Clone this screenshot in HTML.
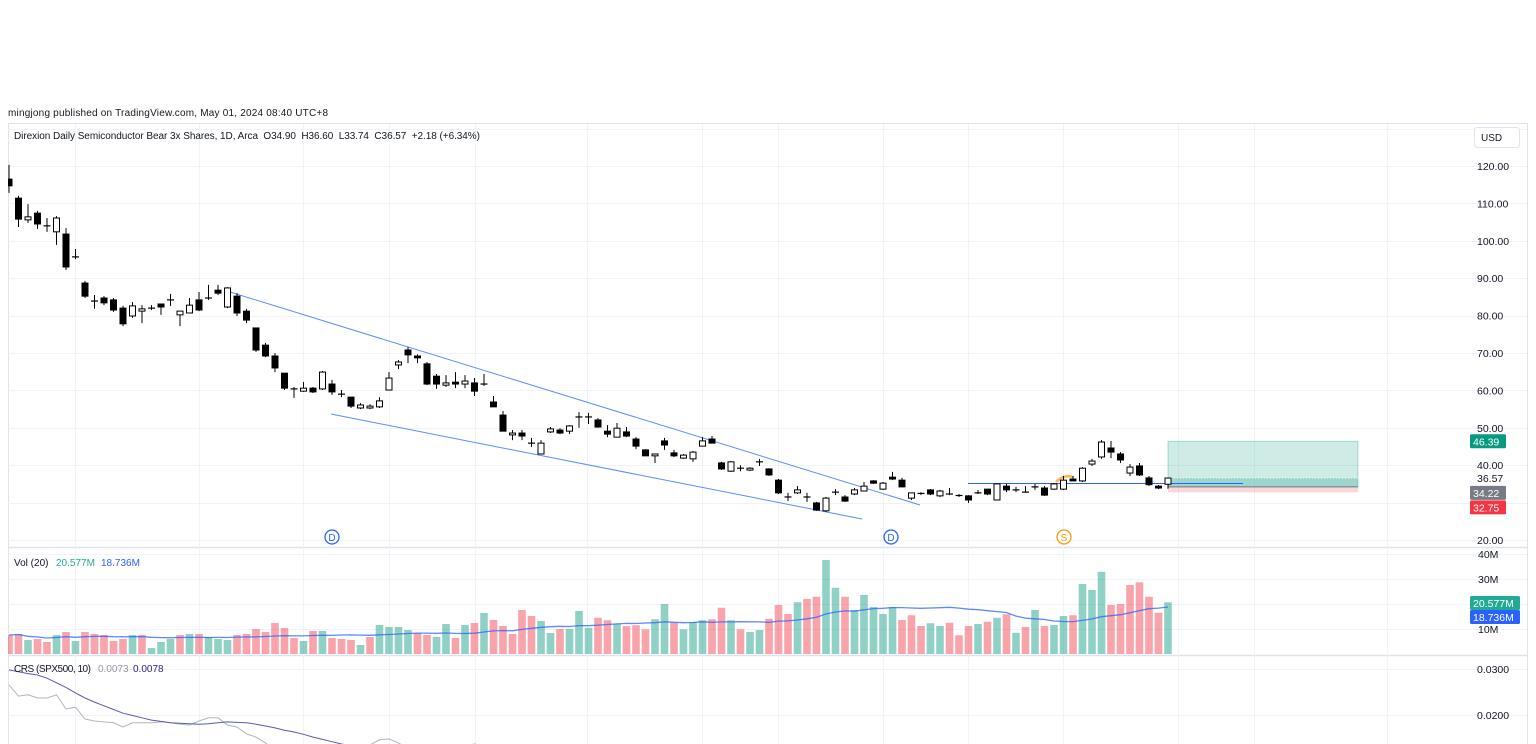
<!DOCTYPE html>
<html><head><meta charset="utf-8">
<style>
html,body{margin:0;padding:0;background:#fff;width:1536px;height:744px;overflow:hidden;font-family:"Liberation Sans",sans-serif;}
svg{display:block}
text{white-space:pre}
</style></head>
<body>
<svg id="chart" width="1536" height="744" viewBox="0 0 1536 744" xmlns="http://www.w3.org/2000/svg"></svg>
<script>
// ---- data ----
const opens  = [116.5,111.4,105.6,107.4,104,102.4,101.8,95.7,88.7,83.9,84.7,84.2,82,79.9,81.2,82,83.1,84.2,80.2,80.7,84.2,84.7,86.8,82.3,85.2,81.2,76.7,72.1,69.2,64.6,60.4,59.8,60.6,60.4,61.7,59,58.2,55.3,55.3,55.6,60.1,66.8,70.8,69.2,67.1,63.8,61.4,62.2,61.7,62,61.7,56.9,53.4,48.1,48.6,45.9,43,48.9,49.4,49.1,52.9,52.9,52.1,49.1,47.5,48.9,47,44.1,42.5,46.5,43.3,41.9,41.7,45.1,47,40.6,38.4,39.2,38.7,40.9,39,36,31.5,32.6,31.5,29.9,27.8,32.8,31.5,32.3,33.1,35.8,33.6,36.8,36,31.2,32.6,33.4,31.8,32.3,32,31.8,32.6,33.6,30.7,34.4,33.4,32.8,34.2,33.9,33.6,33.6,36.3,35.8,40.3,42.2,44.6,43,37.9,39.8,36.6,34.4,34.9];
const highs  = [120.3,112,109.8,108,106.1,106.6,103.4,97.8,89.3,85.5,85.2,84.7,82.6,83.6,82.8,82.8,83.1,85.8,81.2,84.7,86.3,88.2,88.2,87.6,86,81.8,76.7,72.7,70,64.6,60.9,62.2,60.9,65.2,62.8,60.1,58.2,56.6,56.3,58.2,64.9,68.1,71.6,69.7,67.6,64.4,64.1,64.9,64.1,63.3,64.4,58.5,54.5,49.4,49.4,47.3,46.7,50.2,49.9,50.7,54.2,54,52.6,50.7,51.3,50.2,47.5,44.3,43,47.3,44.1,43,43.8,47.5,47.8,40.9,41.1,40,39.5,41.7,39.2,36.3,32.6,34.4,32.6,30.2,31.5,33.6,32,33.9,35.5,36,35.5,38.2,36.6,32.6,32.8,33.6,33.4,33.9,32.3,32,33.4,33.6,35,35,34.2,34.4,35,34.4,35.2,37.1,37.1,39.5,41.7,46.7,46.5,43.5,40.3,40.6,37.1,34.7,36.6];
const lows   = [112.8,103.7,104.8,103.2,102.4,98.9,92.2,95.1,84.7,81.8,82.8,81,77.2,79.4,78,81.5,80.2,82.6,77.2,80.7,81.2,84.2,85.5,82,79.9,78,70.3,68.9,64.9,60.1,58,59.6,59.3,60.1,58.8,58.2,55.3,55,55,55.3,60.1,65.7,67.3,67.3,61.4,60.4,60.9,60.6,60.6,58.5,61.2,55.6,49.1,46.7,46.7,44.9,43,48.6,48.3,48.3,50,51,50,47.5,47.5,47.5,44.3,42.5,40.6,44.1,42.2,41.7,40.9,45.1,45.9,38.7,38.2,38.4,38.4,39.8,37.1,32.3,30.4,32.3,30.2,27.8,27.5,32,30.2,32,33.1,35,33.4,36,34.2,30.7,32,32,31.5,32,31.5,29.9,32.3,32,30.7,32.8,32.8,32.8,33.4,31.8,33.4,33.4,35.8,35.5,39.8,41.7,41.9,40.6,37.1,37.1,34.4,33.6,33.7];
const closes = [114.7,105.8,106.4,104.5,104,106.1,93,95.7,85.2,83.9,83.4,81.5,77.8,82.6,81.8,82,82.3,84.2,81.2,82.8,81.5,84.7,86,87.4,80.7,78.8,70.8,69.2,66,60.6,60.4,60.6,59.6,64.9,59.6,59,55.8,56.1,55.8,57.2,63.3,67.6,69.5,68.7,61.7,61.7,62,61.7,62.5,59.8,61.7,55.6,49.1,48.6,47.8,45.9,45.9,49.7,48.6,50.5,52.9,52.9,50.2,48.3,49.9,47.8,45.1,42.5,43,45.4,42.5,42.7,43.5,46.5,45.9,39,40.9,39.2,39.2,40.9,37.4,32.6,31.5,33.4,31.5,28,31.2,32.8,30.4,33.4,34.4,35.2,35.2,36.3,34.2,32.6,32.3,32.3,33.1,32.3,31.8,30.7,32.6,32.3,35,33.4,33.4,32.8,34.2,32,35,36,35.8,39.2,41.1,46.2,43.5,41.4,39.5,37.4,34.8,33.9,36.57];
const volumes = [7.6,8,5.6,6,4.8,7.6,8.8,5.2,8.8,8,7.6,5.2,6,7.6,7.6,2.4,4.8,6,7.6,8,8,6.8,6,5.6,7.6,8,10,8.8,12.4,10.4,6.4,5.2,9.2,9.2,6.4,6,5.6,3.6,6.8,11.6,10.8,10.8,9.6,8.4,7.6,6.8,12,6.4,11.6,12.4,16.4,13.6,11.2,8,17.6,15.2,13.2,8.4,10,10,17.2,10.5,14.5,13.5,12,11.2,11.5,9.9,13.9,20,12.5,9.9,12.8,13.5,13.9,18.5,13.5,9.9,8.8,9.6,14.1,19.6,16,20.7,22,22.9,37.6,26.5,22.9,17.6,23.6,18.8,16,18.8,13.6,15.5,11.2,12.3,11.2,12.5,7.5,11.2,12,12.9,14.5,15.9,8.5,10.8,17.6,11.2,11.6,15.2,15.5,28,25.6,32.9,19.6,20,27.6,28.7,22.9,16.5,20.7];
const crsValues = [0.0265,0.0241,0.0244,0.0237,0.0237,0.0244,0.0213,0.0217,0.0191,0.0187,0.0185,0.0183,0.0174,0.0183,0.0183,0.0183,0.0185,0.0183,0.0180,0.0178,0.0187,0.0194,0.0194,0.0178,0.0174,0.0159,0.0152,0.0139,0.0124,0.0113,0.0113,0.0110,0.0108,0.0110,0.0115,0.0120,0.0126,0.0130,0.0135,0.0146,0.0148,0.0139,0.0128,0.0124,0.0120,0.0120,0.0124,0.0130,0.0133,0.0137,0.0133,0.0120];
const crsMa = [0.0298,0.0294,0.0290,0.0287,0.0280,0.0270,0.0260,0.0248,0.0237,0.0228,0.0220,0.0212,0.0204,0.0199,0.0194,0.0189,0.0186,0.0183,0.0182,0.0181,0.0180,0.0181,0.0183,0.0185,0.0184,0.0183,0.0180,0.0176,0.0172,0.0167,0.0163,0.0158,0.0152,0.0147,0.0142,0.0137,0.0133,0.0129,0.0125,0.0122,0.0120];
const priceTicks = [120,110,100,90,80,70,60,50,40,20];
const priceGrid = [130,120,110,100,90,80,70,60,50,40,30,20];
const volTicks = [40,30,10];
const crsTicks = [0.03,0.02];
const gridX = [75,199,303,389,475,587,702,778,883,968,1063,1178,1254,1387];

// ---- axes ----
const X = i => 9 + i*9.5;
const PY = p => 166 + (120-p)*3.74;
const VY = v => 654 - v*2.5;
const CY = v => 669 + (0.03-v)*4600;

const NS='http://www.w3.org/2000/svg';
const svg=document.getElementById('chart');
function mk(tag, attrs, parent){const e=document.createElementNS(NS,tag);for(const k in attrs)e.setAttribute(k,attrs[k]);(parent||svg).appendChild(e);return e;}

const defs=mk('defs',{});
const cp1=mk('clipPath',{id:'cpPrice'},defs);mk('rect',{x:8,y:124,width:1519,height:423},cp1);
const cp2=mk('clipPath',{id:'cpVol'},defs);mk('rect',{x:8,y:548,width:1519,height:107},cp2);
const cp3=mk('clipPath',{id:'cpCrs'},defs);mk('rect',{x:8,y:657,width:1519,height:87},cp3);

let t=mk('text',{x:8,y:116,'font-size':'10','fill':'#131722',textLength:320});
t.textContent='mingjong published on TradingView.com, May 01, 2024 08:40 UTC+8';


let fr=mk('rect',{x:8.5,y:123.5,width:1519,height:630,fill:'none',stroke:'#e0e3eb'});

mk('line',{x1:8,x2:1528,y1:547.5,y2:547.5,stroke:'#e0e3eb','stroke-width':1.5});
mk('line',{x1:8,x2:1528,y1:655.5,y2:655.5,stroke:'#e0e3eb','stroke-width':1.5});

const grid=mk('g',{stroke:'#f0f3fa','stroke-width':1});

gridX.forEach(x=>mk('line',{x1:x+.5,x2:x+.5,y1:124,y2:744},grid));
priceGrid.forEach(p=>mk('line',{x1:8,x2:1527,y1:Math.round(PY(p))+.5,y2:Math.round(PY(p))+.5},grid));
volTicks.concat([20]).forEach(v=>mk('line',{x1:8,x2:1527,y1:Math.round(VY(v))+.5,y2:Math.round(VY(v))+.5},grid));
crsTicks.forEach(v=>mk('line',{x1:8,x2:1527,y1:Math.round(CY(v))+.5,y2:Math.round(CY(v))+.5},grid));

t=mk('text',{x:14,y:139,'font-size':'10','fill':'#131722',textLength:466});
t.textContent='Direxion Daily Semiconductor Bear 3x Shares, 1D, Arca  O34.90  H36.60  L33.74  C36.57  +2.18 (+6.34%)';


const ub=mk('g',{});
mk('rect',{x:1474.5,y:127.5,width:45,height:20,rx:3,fill:'#fff',stroke:'#e0e3eb'},ub);
let ut=mk('text',{x:1481,y:141,'font-size':'10',fill:'#131722'},ub);ut.textContent='USD';

const lp=mk('g',{});
mk('rect',{x:1168,y:PY(46.39),width:190,height:PY(34.22)-PY(46.39),fill:'rgba(8,153,129,0.2)',stroke:'rgba(8,153,129,0.3)'},lp);
mk('rect',{x:1168,y:PY(36.57),width:190,height:PY(34.22)-PY(36.57),fill:'rgba(8,153,129,0.25)'},lp);
mk('line',{x1:1168,x2:1358,y1:PY(36.57),y2:PY(36.57),stroke:'#fff','stroke-dasharray':'1 2'},lp);
mk('rect',{x:1168,y:PY(34.22),width:190,height:PY(32.75)-PY(34.22),fill:'rgba(242,54,69,0.2)'},lp);
mk('line',{x1:1168,x2:1358,y1:PY(34.22),y2:PY(34.22),stroke:'#787b86'},lp);

const tl=mk('g',{stroke:'#5b8cff','stroke-width':1,'clip-path':'url(#cpPrice)'});

mk('line',{x1:230,y1:292,x2:920,y2:505},tl);
mk('line',{x1:331,y1:414,x2:862,y2:519},tl);
mk('line',{x1:968,y1:483.5,x2:1243,y2:483.5,stroke:'#2962ff'},tl);
mk('path',{d:'M1056 482 Q1064 474 1073 477',stroke:'#ffb74d','stroke-width':2.5,fill:'none'});

const cg=mk('g',{'clip-path':'url(#cpPrice)'});

for(let i=0;i<opens.length;i++){
  const x=X(i),o=opens[i],c=closes[i],h=highs[i],l=lows[i];
  const g=mk('g',{},cg);
  
  
  const top=Math.min(PY(o),PY(c)),bot=Math.max(PY(o),PY(c));
  mk('line',{x1:x,x2:x,y1:PY(h),y2:PY(l),stroke:'#000','stroke-width':1},g);
  const up=c>o;
  if(bot-top<1.2){mk('line',{x1:x-3.5,x2:x+3.5,y1:(top+bot)/2,y2:(top+bot)/2,stroke:'#000','stroke-width':1.2},g);}
  else mk('rect',{x:x-3,y:top,width:6,height:bot-top,fill:up?'#fff':'#000',stroke:'#000','stroke-width':1},g);
}

function marker(x,ch,col,name){const g=mk('g',{});
  mk('circle',{cx:x,cy:537,r:7,fill:'#fff',stroke:col,'stroke-width':1.3},g);
  const tt=mk('text',{x:x,y:541,'font-size':'10','text-anchor':'middle',fill:col},g);tt.textContent=ch;}
marker(332,'D','#2962ff','dividend-marker-1');
marker(891,'D','#2962ff','dividend-marker-2');
marker(1064,'S','#ff9800','split-marker');

const pa=mk('g',{'font-size':'10.5',fill:'#131722'});

priceTicks.forEach(p=>{const e=mk('text',{x:1477,y:PY(p)+4},pa);e.textContent=p.toFixed(2);});
let e=mk('text',{x:1477,y:PY(36.57)+4},pa);e.textContent='36.57';
function badge(y,txt,col,name,w){const g=mk('g',{});
  mk('rect',{x:1470,y:y-7,width:w||36,height:14,rx:1.5,fill:col},g);
  const tt=mk('text',{x:1473,y:y+4,'font-size':'10.5',fill:'#fff'},g);tt.textContent=txt;}
badge(PY(46.39),'46.39','#089981','target-price-label');
badge(PY(34.22)+6,'34.22','#787b86','entry-price-label');
badge(PY(32.75)+15,'32.75','#f23645','stop-price-label');

const vg=mk('g',{'clip-path':'url(#cpVol)'});

for(let i=0;i<volumes.length;i++){
  const up=i===0?closes[i]>=opens[i]:closes[i]>=closes[i-1];
  const r=mk('rect',{x:X(i)-3.8,y:VY(volumes[i]),width:7.6,height:654-VY(volumes[i]),fill:up?'rgba(8,153,129,0.45)':'rgba(242,54,69,0.45)'},vg);
  
  
}
let pts=[];
for(let i=0;i<volumes.length;i++){const s=volumes.slice(Math.max(0,i-19),i+1);const m=s.reduce((a,b)=>a+b,0)/s.length;pts.push(X(i)+','+VY(m).toFixed(1));}
const vma=mk('polyline',{points:pts.join(' '),fill:'none',stroke:'rgba(41,98,255,0.75)','stroke-width':1.3,'clip-path':'url(#cpVol)'});

t=mk('text',{x:14,y:566,'font-size':'10',fill:'#131722'});t.textContent='Vol (20)';
t=mk('text',{x:56,y:566,'font-size':'10',fill:'#22ab94'});t.textContent='20.577M';
t=mk('text',{x:101,y:566,'font-size':'10',fill:'#2962ff'});t.textContent='18.736M';
const va=mk('g',{'font-size':'10.5',fill:'#131722'});

volTicks.forEach(v=>{const e=mk('text',{x:1478,y:VY(v)+4},va);e.textContent=v+'M';});
badge(603,'20.577M','#22ab94','volume-label',50);
badge(617,'18.736M','#2962ff','volume-ma-label',50);

pts=crsValues.map((v,i)=>X(i)+','+CY(v).toFixed(1));
let cl=mk('polyline',{points:pts.join(' '),fill:'none',stroke:'#b2b5be','stroke-width':1,'clip-path':'url(#cpCrs)'});

pts=crsMa.map((v,i)=>X(i)+','+CY(v).toFixed(1));
cl=mk('polyline',{points:pts.join(' '),fill:'none',stroke:'#5a5bb5','stroke-width':1,'clip-path':'url(#cpCrs)'});

t=mk('text',{x:14,y:672,'font-size':'10',fill:'#131722',textLength:77});t.textContent='CRS (SPX500, 10)';
t=mk('text',{x:98,y:672,'font-size':'10',fill:'#9598a1'});t.textContent='0.0073';
t=mk('text',{x:133,y:672,'font-size':'10',fill:'#311b92'});t.textContent='0.0078';
const ca=mk('g',{'font-size':'10.5',fill:'#131722'});

crsTicks.forEach(v=>{const e=mk('text',{x:1477,y:CY(v)+4},ca);e.textContent=v.toFixed(4);});
</script>
</body></html>
